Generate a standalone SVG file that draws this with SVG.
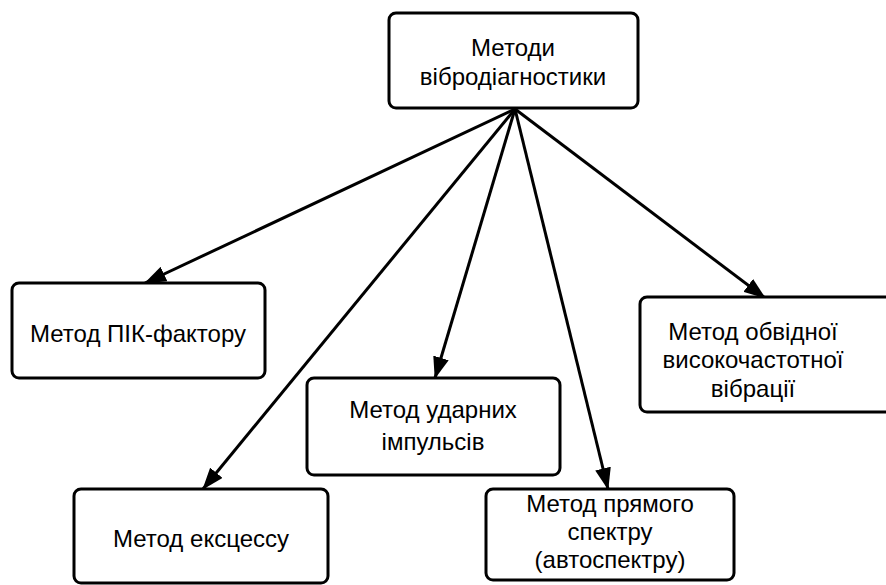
<svg xmlns="http://www.w3.org/2000/svg" width="886" height="585" viewBox="0 0 886 585">
<defs>
<style>
.box{fill:#fff;stroke:#000;stroke-width:3}
.t{font-family:"Liberation Sans","Arial",sans-serif;font-size:24px;fill:#000;text-anchor:middle}
.c{stroke:#000;stroke-width:3;fill:none;marker-end:url(#ah)}
</style>
<marker id="ah" markerUnits="userSpaceOnUse" markerWidth="22" markerHeight="16" viewBox="0 0 22 16" refX="21" refY="8" orient="auto">
<path d="M0,0 L22,8 L0,16 Z" fill="#000"/>
</marker>
</defs>
<rect width="886" height="585" fill="#fff"/>
<g id="connectors">
<line class="c" x1="515" y1="109" x2="145" y2="283"/>
<line class="c" x1="515" y1="109" x2="203" y2="489"/>
<line class="c" x1="515" y1="109" x2="435" y2="378"/>
<line class="c" x1="515" y1="109" x2="608" y2="489"/>
<line class="c" x1="515" y1="109" x2="765" y2="298"/>
</g>
<g id="root">
<rect class="box" x="389" y="13" width="249" height="95" rx="7"/>
<text class="t" x="513" y="56">Методи</text>
<text class="t" x="513" y="85">вібродіагностики</text>
</g>
<g id="pik">
<rect class="box" x="12" y="283" width="253" height="95" rx="7"/>
<text class="t" x="138" y="342">Метод ПІК-фактору</text>
</g>
<g id="impulse">
<rect class="box" x="307" y="378" width="253" height="97" rx="7"/>
<text class="t" x="433" y="418">Метод ударних</text>
<text class="t" x="433" y="450">імпульсів</text>
</g>
<g id="excess">
<rect class="box" x="74" y="489" width="254" height="94" rx="7"/>
<text class="t" x="201" y="547">Метод ексцессу</text>
</g>
<g id="spectrum">
<rect class="box" x="486" y="489" width="248" height="91" rx="7"/>
<text class="t" x="610" y="512">Метод прямого</text>
<text class="t" x="610" y="540">спектру</text>
<text class="t" x="610" y="568">(автоспектру)</text>
</g>
<g id="envelope">
<rect class="box" x="640" y="297" width="260" height="115" rx="7"/>
<text class="t" x="753" y="340">Метод обвідної</text>
<text class="t" x="753" y="368">високочастотної</text>
<text class="t" x="753" y="397">вібрації</text>
</g>
</svg>
